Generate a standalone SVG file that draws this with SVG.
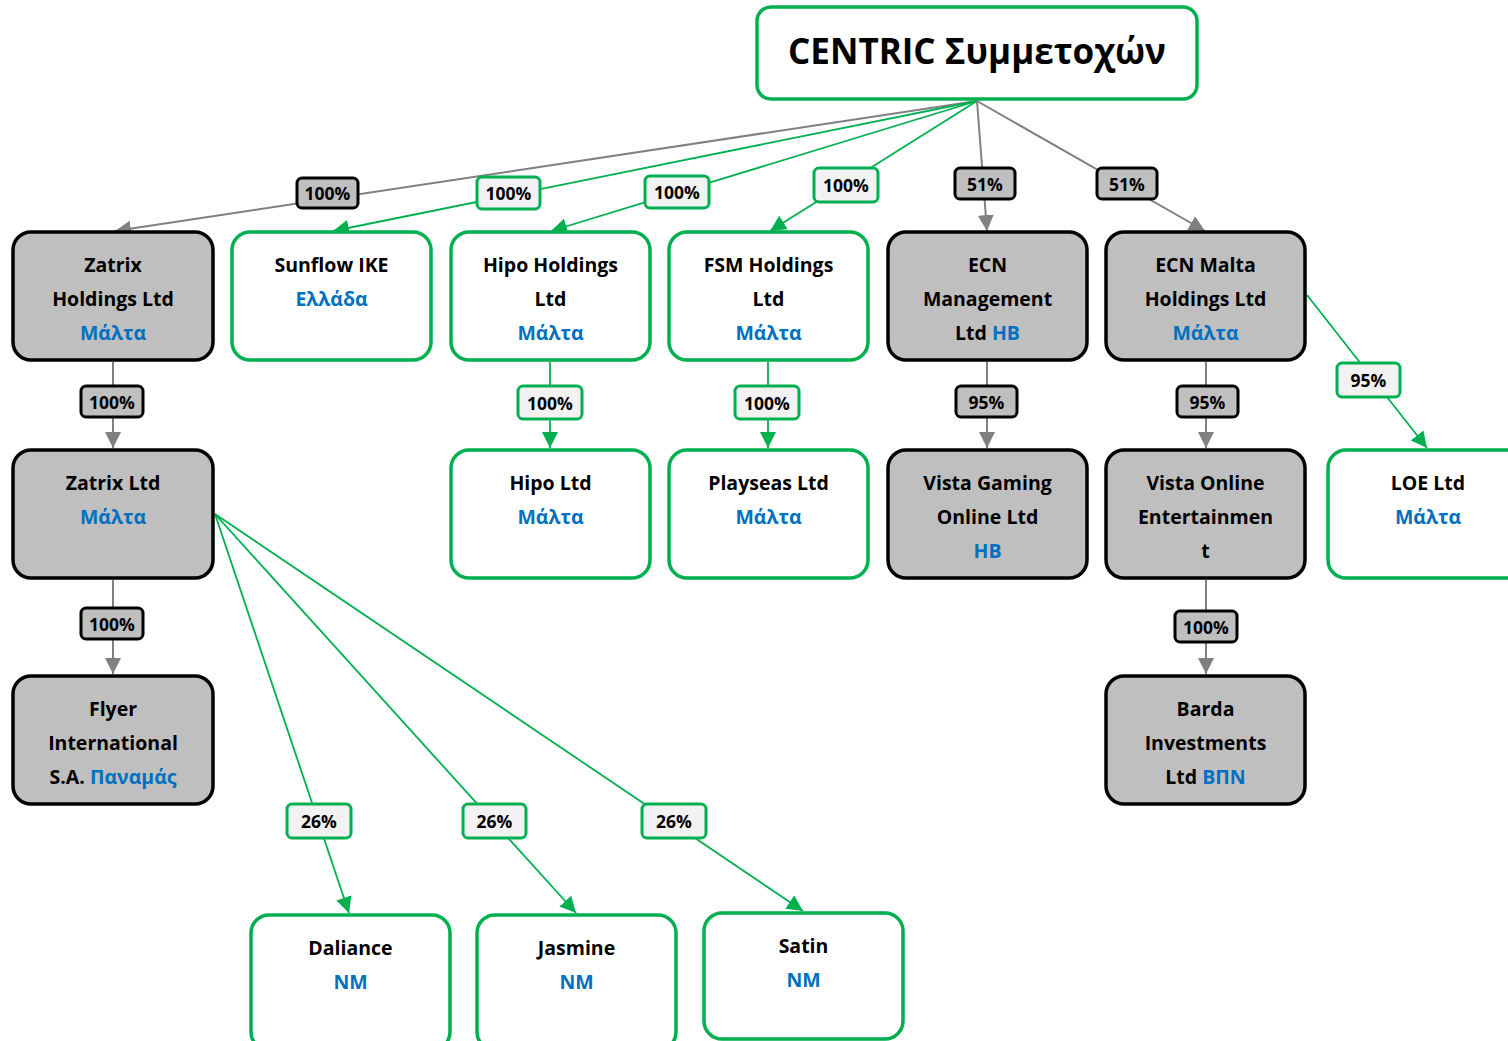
<svg xmlns="http://www.w3.org/2000/svg" width="1508" height="1041" viewBox="0 0 1508 1041">
<style>
.g{fill:#BFBFBF;stroke:#000;stroke-width:3.5}
.w{fill:#fff;stroke:#00B050;stroke-width:3.5}
.lg{fill:#BFBFBF;stroke:#000;stroke-width:3}
.lw{fill:#F2F2F2;stroke:#00B050;stroke-width:3}
text{font-family:"Open Sans","Noto Sans","DejaVu Sans",sans-serif;font-weight:bold;text-anchor:middle;fill:#000}
.t{font-size:19.5px}
.b{fill:#0070C0}
.l{font-size:17.5px}
.title{font-size:35px}
.cg{stroke:#808080;stroke-width:2;fill:none;marker-end:url(#ag)}
.cw{stroke:#00B050;stroke-width:1.8;fill:none;marker-end:url(#aw)}
</style>
<defs>
<marker id="ag" markerUnits="userSpaceOnUse" markerWidth="17" markerHeight="16" refX="16" refY="8" orient="auto"><path d="M0,0 L16,8 L0,16 z" fill="#808080"/></marker>
<marker id="aw" markerUnits="userSpaceOnUse" markerWidth="17" markerHeight="16" refX="16" refY="8" orient="auto"><path d="M0,0 L16,8 L0,16 z" fill="#00B050"/></marker>
</defs>
<rect width="1508" height="1041" fill="#fff"/>
<g id="connectors">
<line class="cg" x1="977" y1="101" x2="115" y2="231"/>
<line class="cw" x1="977" y1="101" x2="333" y2="231"/>
<line class="cw" x1="977" y1="101" x2="551" y2="231"/>
<line class="cw" x1="977" y1="101" x2="770" y2="231"/>
<line class="cg" x1="977" y1="101" x2="987" y2="231"/>
<line class="cg" x1="977" y1="101" x2="1205" y2="231"/>
<line class="cg" x1="113" y1="362" x2="113" y2="448"/>
<line class="cw" x1="550" y1="362" x2="550" y2="448"/>
<line class="cw" x1="768" y1="362" x2="768" y2="448"/>
<line class="cg" x1="987" y1="362" x2="987" y2="448"/>
<line class="cg" x1="1206" y1="362" x2="1206" y2="448"/>
<line class="cw" x1="1307" y1="295" x2="1427" y2="448"/>
<line class="cg" x1="113" y1="580" x2="113" y2="674"/>
<line class="cg" x1="1206" y1="580" x2="1206" y2="674"/>
<line class="cw" x1="215" y1="514" x2="349" y2="913"/>
<line class="cw" x1="215" y1="514" x2="576" y2="913"/>
<line class="cw" x1="215" y1="514" x2="803" y2="911"/>
<g id="labels">
<rect class="lg" x="297" y="178" width="61" height="30" rx="5"/><text class="l" x="327.5" y="199.5">100%</text>
<rect class="lw" x="477" y="177" width="63" height="32" rx="5"/><text class="l" x="508.5" y="199.5">100%</text>
<rect class="lw" x="645" y="176" width="64" height="32" rx="5"/><text class="l" x="677" y="198.5">100%</text>
<rect class="lw" x="814" y="168" width="64" height="34" rx="5"/><text class="l" x="846" y="191.5">100%</text>
<rect class="lg" x="955" y="168" width="60" height="31" rx="5"/><text class="l" x="985" y="190.5">51%</text>
<rect class="lg" x="1097" y="168" width="60" height="31" rx="5"/><text class="l" x="1127" y="190.5">51%</text>
<rect class="lg" x="81" y="386" width="62" height="31" rx="5"/><text class="l" x="112" y="408.5">100%</text>
<rect class="lw" x="518" y="386" width="64" height="33" rx="5"/><text class="l" x="550" y="409.5">100%</text>
<rect class="lw" x="735" y="386" width="64" height="33" rx="5"/><text class="l" x="767" y="409.5">100%</text>
<rect class="lg" x="956" y="386" width="61" height="31" rx="5"/><text class="l" x="986.5" y="408.5">95%</text>
<rect class="lg" x="1177" y="386" width="61" height="31" rx="5"/><text class="l" x="1207.5" y="408.5">95%</text>
<rect class="lw" x="1337" y="363" width="63" height="34" rx="5"/><text class="l" x="1368.5" y="386.5">95%</text>
<rect class="lg" x="81" y="608" width="62" height="31" rx="5"/><text class="l" x="112" y="630.5">100%</text>
<rect class="lg" x="1175" y="611" width="62" height="31" rx="5"/><text class="l" x="1206" y="633.5">100%</text>
<rect class="lw" x="287" y="804" width="64" height="34" rx="5"/><text class="l" x="319" y="827.5">26%</text>
<rect class="lw" x="463" y="804" width="63" height="34" rx="5"/><text class="l" x="494.5" y="827.5">26%</text>
<rect class="lw" x="642" y="804" width="64" height="34" rx="5"/><text class="l" x="674" y="827.5">26%</text>
</g>
</g>
<g id="root"><rect class="w" x="757" y="7" width="440" height="92" rx="14"/><text class="title" x="977" y="64">CENTRIC Συμμετοχών</text></g>
<g id="zatrix-holdings"><rect class="g" x="13" y="232" width="200" height="128" rx="18"/><text class="t" x="113" y="272">Zatrix</text><text class="t" x="113" y="306">Holdings Ltd</text><text class="t b" x="113" y="340">Μάλτα</text></g>
<g id="sunflow"><rect class="w" x="232" y="232" width="199" height="128" rx="18"/><text class="t" x="331.5" y="272">Sunflow IKE</text><text class="t b" x="331.5" y="306">Ελλάδα</text></g>
<g id="hipo-holdings"><rect class="w" x="451" y="232" width="199" height="128" rx="18"/><text class="t" x="550.5" y="272">Hipo Holdings</text><text class="t" x="550.5" y="306">Ltd</text><text class="t b" x="550.5" y="340">Μάλτα</text></g>
<g id="fsm-holdings"><rect class="w" x="669" y="232" width="199" height="128" rx="18"/><text class="t" x="768.5" y="272">FSM Holdings</text><text class="t" x="768.5" y="306">Ltd</text><text class="t b" x="768.5" y="340">Μάλτα</text></g>
<g id="ecn-management"><rect class="g" x="888" y="232" width="199" height="128" rx="18"/><text class="t" x="987.5" y="272">ECN</text><text class="t" x="987.5" y="306">Management</text><text class="t" x="987.5" y="340">Ltd <tspan class="b">HB</tspan></text></g>
<g id="ecn-malta"><rect class="g" x="1106" y="232" width="199" height="128" rx="18"/><text class="t" x="1205.5" y="272">ECN Malta</text><text class="t" x="1205.5" y="306">Holdings Ltd</text><text class="t b" x="1205.5" y="340">Μάλτα</text></g>
<g id="zatrix-ltd"><rect class="g" x="13" y="450" width="200" height="128" rx="18"/><text class="t" x="113" y="490">Zatrix Ltd</text><text class="t b" x="113" y="524">Μάλτα</text></g>
<g id="hipo-ltd"><rect class="w" x="451" y="450" width="199" height="128" rx="18"/><text class="t" x="550.5" y="490">Hipo Ltd</text><text class="t b" x="550.5" y="524">Μάλτα</text></g>
<g id="playseas"><rect class="w" x="669" y="450" width="199" height="128" rx="18"/><text class="t" x="768.5" y="490">Playseas Ltd</text><text class="t b" x="768.5" y="524">Μάλτα</text></g>
<g id="vista-gaming"><rect class="g" x="888" y="450" width="199" height="128" rx="18"/><text class="t" x="987.5" y="490">Vista Gaming</text><text class="t" x="987.5" y="524">Online Ltd</text><text class="t b" x="987.5" y="558">HB</text></g>
<g id="vista-online"><rect class="g" x="1106" y="450" width="199" height="128" rx="18"/><text class="t" x="1205.5" y="490">Vista Online</text><text class="t" x="1205.5" y="524">Entertainmen</text><text class="t" x="1205.5" y="558">t</text></g>
<g id="loe"><rect class="w" x="1328" y="450" width="200" height="128" rx="18"/><text class="t" x="1428" y="490">LOE Ltd</text><text class="t b" x="1428" y="524">Μάλτα</text></g>
<g id="flyer"><rect class="g" x="13" y="676" width="200" height="128" rx="18"/><text class="t" x="113" y="716">Flyer</text><text class="t" x="113" y="750">International</text><text class="t" x="113" y="784">S.A. <tspan class="b">Παναμάς</tspan></text></g>
<g id="barda"><rect class="g" x="1106" y="676" width="199" height="128" rx="18"/><text class="t" x="1205.5" y="716">Barda</text><text class="t" x="1205.5" y="750">Investments</text><text class="t" x="1205.5" y="784">Ltd <tspan class="b">ΒΠΝ</tspan></text></g>
<g id="daliance"><rect class="w" x="251" y="915" width="199" height="135" rx="18"/><text class="t" x="350.5" y="955">Daliance</text><text class="t b" x="350.5" y="989">NM</text></g>
<g id="jasmine"><rect class="w" x="477" y="915" width="199" height="135" rx="18"/><text class="t" x="576.5" y="955">Jasmine</text><text class="t b" x="576.5" y="989">NM</text></g>
<g id="satin"><rect class="w" x="704" y="913" width="199" height="126" rx="18"/><text class="t" x="803.5" y="953">Satin</text><text class="t b" x="803.5" y="987">NM</text></g>
</svg>
